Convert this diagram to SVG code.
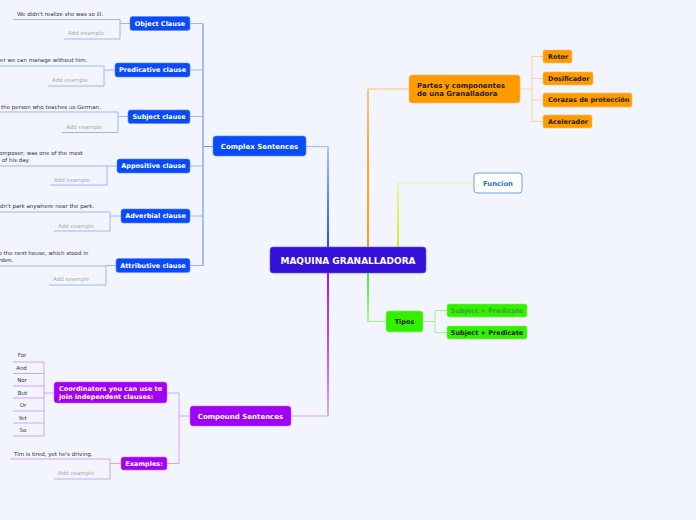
<svg xmlns="http://www.w3.org/2000/svg" width="696" height="520" viewBox="0 0 696 520">
<defs>
<style>
text{font-family:"DejaVu Sans","Verdana",sans-serif}
.ex{font-size:5.5px;fill:#333}
.add{font-size:5.5px;fill:#aaa}
.nb{font-weight:bold;font-size:6.5px;fill:#fff}
.nd{font-weight:bold;font-size:6.5px;fill:#222}
.big{font-weight:bold;font-size:7px;fill:#fff}
.c{text-anchor:middle}
.blue{fill:#0a4bf6;stroke:#5f8bff;stroke-width:0.6}
.org{fill:#ff9b00;stroke:#ffc060;stroke-width:0.6}
.grn{fill:#33f000;stroke:#88f566;stroke-width:0.6}
.pur{fill:#a000f5;stroke:#c766ff;stroke-width:0.6}
.lb{fill:none;stroke:#9ab6ff;stroke-width:1}
.lbd{fill:none;stroke:#6f97ff;stroke-width:1.2}
.lo{fill:none;stroke:#ffd49a;stroke-width:1}
.lg{fill:none;stroke:#a8f090;stroke-width:1}
.lp{fill:none;stroke:#d4a0ff;stroke-width:1}
</style>
<linearGradient id="gB" gradientUnits="userSpaceOnUse" x1="0" y1="146" x2="0" y2="247"><stop offset="0" stop-color="#a6c0ff"/><stop offset="0.5" stop-color="#4d80ff"/><stop offset="1" stop-color="#0044ff"/></linearGradient>
<linearGradient id="gO" gradientUnits="userSpaceOnUse" x1="0" y1="89" x2="0" y2="247"><stop offset="0" stop-color="#ffc468"/><stop offset="0.4" stop-color="#ffa020"/><stop offset="1" stop-color="#ff9500"/></linearGradient>
<linearGradient id="gY" gradientUnits="userSpaceOnUse" x1="0" y1="183" x2="0" y2="247"><stop offset="0" stop-color="#e8f5a0"/><stop offset="1" stop-color="#ccf000"/></linearGradient>
<linearGradient id="gG" gradientUnits="userSpaceOnUse" x1="0" y1="273" x2="0" y2="322"><stop offset="0" stop-color="#33ee00"/><stop offset="1" stop-color="#a8f090"/></linearGradient>
<linearGradient id="gP" gradientUnits="userSpaceOnUse" x1="0" y1="273" x2="0" y2="416"><stop offset="0" stop-color="#9900ff"/><stop offset="0.6" stop-color="#b54dff"/><stop offset="1" stop-color="#d7a0ff"/></linearGradient>
</defs>
<rect x="0" y="0" width="696" height="520" fill="#f2f5fe"/>

<g id="connectors">
  <!-- root branches -->
  <path d="M306,146.5 H328" stroke="#a6c0ff" stroke-width="1.2" fill="none"/>
  <path d="M328,146.5 V247" stroke="url(#gB)" stroke-width="1.8" fill="none"/>
  <path d="M368,89 H409" stroke="#ffc468" stroke-width="1.2" fill="none"/>
  <path d="M368,89 V247" stroke="url(#gO)" stroke-width="1.8" fill="none"/>
  <path d="M398,183 H474" stroke="#e8f5a0" stroke-width="1.2" fill="none"/>
  <path d="M398,183 V247" stroke="url(#gY)" stroke-width="1.8" fill="none"/>
  <path d="M368,273 V321.5" stroke="url(#gG)" stroke-width="1.8" fill="none"/>
  <path d="M368,321.5 H386" stroke="#a8f090" stroke-width="1.2" fill="none"/>
  <path d="M328,273 V416" stroke="url(#gP)" stroke-width="1.8" fill="none"/>
  <path d="M328,416 H291" stroke="#d7a0ff" stroke-width="1.2" fill="none"/>
  <!-- complex sentences bus -->
  <path class="lbd" d="M213,146.5 H203 M203,23.5 V265.5"/>
  <path class="lb" d="M190,23.5 H203 M190,70 H203 M190,116.5 H203 M190,166 H203 M190,216 H203 M190,265.5 H203"/>
  <!-- clause examples -->
  <path class="lb" d="M130,23.5 H120 M13,19.5 H120 V39 H64"/>
  <path class="lb" d="M115,70 H104 M0,66 H104 V86 H48"/>
  <path class="lb" d="M128,116.5 H118 M0,112 H118 V132.5 H62"/>
  <path class="lb" d="M117,166 H107 M0,166 H107 V185 H50"/>
  <path class="lb" d="M121,216 H110 M0,212 H110 V231 H54"/>
  <path class="lb" d="M116,265.5 H106 M0,266 H106 V285 H49"/>
  <!-- partes -->
  <path class="lo" d="M520,89 H532 M532,56.5 V121.5 M532,56.5 H543 M532,78.5 H543 M532,100 H543 M532,121.5 H543"/>
  <!-- tipos -->
  <path class="lg" d="M423,321.5 H435 M435,310.5 V332.5 M435,310.5 H447 M435,332.5 H447"/>
  <!-- compound -->
  <path class="lp" d="M190,416 H179 M179,393 V463.5 M179,393 H167 M179,463.5 H167"/>
  <path class="lp" d="M54,393 H44 M44,362 V436 M13,362 H44 M13,373.5 H44 M13,386 H44 M13,398 H44 M13,411 H44 M13,423 H44 M13,436 H44"/>
  <path class="lp" d="M121,463.5 H110 M10,459 H110 V479 H54"/>
</g>

<g id="root">
  <rect x="270" y="247" width="156" height="26" rx="3" fill="#3311d9" stroke="#6a55e8" stroke-width="0.6"/>
  <text x="348" y="264" class="c" font-size="9" font-weight="bold" fill="#fff">MAQUINA GRANALLADORA</text>
</g>

<g id="complex">
  <rect class="blue" x="213" y="136" width="93" height="20" rx="3"/>
  <text class="big c" x="259.5" y="149">Complex Sentences</text>
</g>

<g id="object-clause">
  <rect class="blue" x="130" y="16.5" width="60" height="14" rx="2.5"/>
  <text class="nb c" x="160" y="25.8">Object Clause</text>
  <text class="ex" x="17" y="16">We didn't realize she was so ill.</text>
  <text class="add" x="68" y="35">Add example</text>
</g>
<g id="predicative-clause">
  <rect class="blue" x="115" y="63" width="75" height="14" rx="2.5"/>
  <text class="nb c" x="152.5" y="72.3">Predicative clause</text>
  <text class="ex" x="0" y="62">er we can manage without him.</text>
  <text class="add" x="52" y="82">Add example</text>
</g>
<g id="subject-clause">
  <rect class="blue" x="128" y="110" width="62" height="13.5" rx="2.5"/>
  <text class="nb c" x="159" y="119">Subject clause</text>
  <text class="ex" x="1" y="108.5">the person who teaches us German.</text>
  <text class="add" x="66" y="128.5">Add example</text>
</g>
<g id="appositive-clause">
  <rect class="blue" x="117" y="159" width="73" height="14" rx="2.5"/>
  <text class="nb c" x="153.5" y="168.3">Appositive clause</text>
  <text class="ex" x="-1" y="155">omposer; was one of the most</text>
  <text class="ex" x="2" y="161.5">of his day.</text>
  <text class="add" x="54" y="181.5">Add example</text>
</g>
<g id="adverbial-clause">
  <rect class="blue" x="121" y="209" width="69" height="14" rx="2.5"/>
  <text class="nb c" x="155.5" y="218.3">Adverbial clause</text>
  <text class="ex" x="0" y="208">dn't park anywhere near the park.</text>
  <text class="add" x="58" y="228">Add example</text>
</g>
<g id="attributive-clause">
  <rect class="blue" x="116" y="258.5" width="74" height="14" rx="2.5"/>
  <text class="nb c" x="153" y="267.8">Attributive clause</text>
  <text class="ex" x="-1.5" y="255">o the next house, which stood in</text>
  <text class="ex" x="-1" y="261.5">rden.</text>
  <text class="add" x="53" y="281">Add example</text>
</g>

<g id="partes">
  <rect class="org" x="409" y="75" width="111" height="28" rx="3"/>
  <text x="417" y="87.5" font-size="7" font-weight="bold" fill="#222">Partes y componentes</text>
  <text x="417" y="96" font-size="7" font-weight="bold" fill="#222">de una Granalladora</text>
</g>
<g id="rotor"><rect class="org" x="543" y="50" width="29" height="13" rx="2"/><text class="nd" x="548" y="58.8">Rotor</text></g>
<g id="dosificador"><rect class="org" x="543" y="72" width="50" height="13" rx="2"/><text class="nd" x="548" y="80.8">Dosificador</text></g>
<g id="corazas"><rect class="org" x="543" y="93" width="89" height="14" rx="2"/><text class="nd" x="548" y="102.3">Corazas de protección</text></g>
<g id="acelerador"><rect class="org" x="543" y="115" width="49" height="13" rx="2"/><text class="nd" x="548" y="123.8">Acelerador</text></g>

<g id="funcion">
  <rect x="474" y="173" width="48" height="20" rx="3" fill="#fff" stroke="#3d8ae8" stroke-width="0.8"/>
  <text class="c" x="498" y="185.5" font-size="6.8" font-weight="bold" fill="#1f6fd6">Funcion</text>
</g>

<g id="tipos">
  <rect class="grn" x="386" y="311" width="37" height="21" rx="3"/>
  <text class="nd c" x="404.5" y="323.8">Tipos</text>
</g>
<g id="sp1"><rect class="grn" x="447" y="304" width="80" height="13" rx="2"/><text class="c" x="487" y="312.8" font-size="6.5" font-weight="bold" fill="#3f9f3a">Subject + Predicate</text></g>
<g id="sp2"><rect class="grn" x="447" y="326" width="80" height="13" rx="2"/><text class="nd c" x="487" y="334.8">Subject + Predicate</text></g>

<g id="compound">
  <rect class="pur" x="190" y="406" width="101" height="20" rx="3"/>
  <text class="big c" x="240.5" y="418.5">Compound Sentences</text>
</g>
<g id="coordinators">
  <rect class="pur" x="54" y="382" width="113" height="21" rx="3"/>
  <text class="nb" x="59" y="391">Coordinators you can use to</text>
  <text class="nb" x="59" y="399">join independent clauses:</text>
</g>
<g id="coord-words">
  <text class="ex c" x="22" y="357">For</text>
  <text class="ex c" x="21.5" y="369.5">And</text>
  <text class="ex c" x="22" y="382">Nor</text>
  <text class="ex c" x="22.5" y="394.5">But</text>
  <text class="ex c" x="23" y="407">Or</text>
  <text class="ex c" x="22.5" y="419.5">Yet</text>
  <text class="ex c" x="23" y="432">So</text>
</g>
<g id="examples">
  <rect class="pur" x="121" y="457" width="46" height="13" rx="2.5"/>
  <text class="nb c" x="144" y="465.8">Examples:</text>
  <text class="ex" x="14" y="456">Tim is tired, yet he's driving.</text>
  <text class="add" x="58" y="475">Add example</text>
</g>
</svg>
